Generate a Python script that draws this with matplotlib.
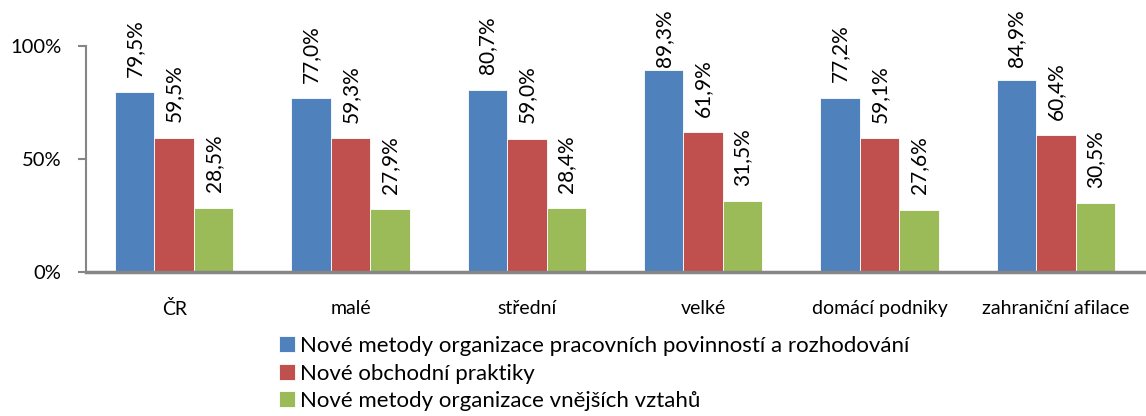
import matplotlib
matplotlib.use("Agg")
import matplotlib.pyplot as plt
import numpy as np

categories = ["ČR", "malé", "střední", "velké", "domácí podniky", "zahraniční afilace"]
series_names = [
    "Nové metody organizace pracovních povinností a rozhodování",
    "Nové obchodní praktiky",
    "Nové metody organizace vnějších vztahů",
]
values_org = [79.5, 77.0, 80.7, 89.3, 77.2, 84.9]
values_obch = [59.5, 59.3, 59.0, 61.9, 59.1, 60.4]
values_vztahy = [28.5, 27.9, 28.4, 31.5, 27.6, 30.5]
colors = ["#4F81BD", "#C0504D", "#9BBB59"]
yticks = [0, 50, 100]
ytick_labels = ["0%", "50%", "100%"]

plt.rcParams['font.family'] = ['Lato', 'DejaVu Sans']

W, H = 1146, 416
fig = plt.figure(figsize=(W / 100, H / 100), dpi=100)
ax = fig.add_axes([86/W, 1-272/H, (1144-86)/W, (272-46)/H])

x = np.arange(len(categories))
w = 0.224
all_vals = [values_org, values_obch, values_vztahy]
labels = []
for i, (vals, c, name) in enumerate(zip(all_vals, colors, series_names)):
    pos = x + (i - 1) * w
    ax.bar(pos, vals, width=w, color=c, label=name, edgecolor='white', linewidth=0.6)
    for p, v in zip(pos, vals):
        t = ax.annotate(f"{v:.1f}%".replace('.', ','), (p, v), xytext=(0, 11),
                        textcoords='offset points', rotation=90, ha='center', va='bottom',
                        fontsize=15, color='black', annotation_clip=False)
        labels.append(t)

ax.set_ylim(0, 100)
ax.set_xlim(-0.5, len(categories) - 0.5)
ax.set_yticks(yticks)
ax.set_yticklabels(ytick_labels, fontsize=14.5)
ax.set_xticks(x)
ax.set_xticklabels(categories, fontsize=14)
ax.tick_params(axis='x', length=0, pad=20)
ax.tick_params(axis='y', length=5.5, width=1.5, color='#868686', pad=12)
for s in ['top', 'right']:
    ax.spines[s].set_visible(False)
ax.spines['left'].set_color('#868686')
ax.spines['left'].set_linewidth(1.5)
ax.spines['bottom'].set_color('#868686')
ax.spines['bottom'].set_linewidth(2.5)

leg = fig.legend(loc='upper left', bbox_to_anchor=(279/W, 1-336/H), frameon=False,
                 fontsize=16, handlelength=0.72, handleheight=0.72, handletextpad=0.22,
                 labelspacing=0.34, borderaxespad=0, borderpad=0)

# keep data labels inside the chart area (like the original): push down if too high
fig.canvas.draw()
renderer = fig.canvas.get_renderer()
limit = H - 9
for t in labels:
    bb = t.get_window_extent(renderer)
    if bb.y1 > limit:
        excess_pt = (bb.y1 - limit) * 72 / 100
        ox, oy = t.xyann
        t.xyann = (ox, oy - excess_pt)

fig.savefig("out.png", dpi=100)
